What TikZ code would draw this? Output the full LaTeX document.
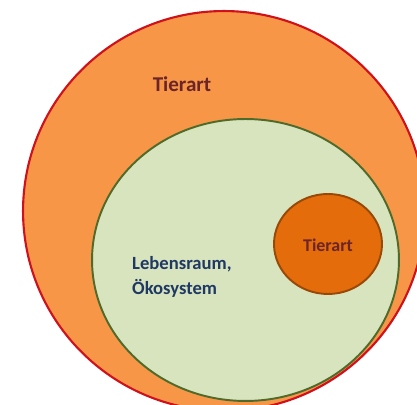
\documentclass[tikz,border=0pt]{standalone}
\usepackage{xcolor}
\usepackage{fontspec}
\usepackage{tikz}
\usetikzlibrary{shapes.geometric}
\setmainfont{Carlito}

\definecolor{outerfill}{HTML}{F79646}
\definecolor{outerline}{HTML}{D0101A}
\definecolor{habfill}{HTML}{D7E4BD}
\definecolor{habline}{HTML}{4F6A2A}
\definecolor{spfill}{HTML}{E46C0A}
\definecolor{spline}{HTML}{984807}
\definecolor{redtext}{HTML}{6B2428}
\definecolor{bluetext}{HTML}{1F3864}

\begin{document}
\begin{tikzpicture}[x=0.02cm, y=-0.02cm, every node/.style={font=\bfseries}]
    \useasboundingbox (0,0) rectangle (417,405);
    \clip (0,0) rectangle (417,405);

    % Outer zone: Tierart
    \node[draw=outerline, fill=outerfill, ellipse, line width=1.2pt, inner sep=0pt,
          minimum width=8.04cm, minimum height=8.0cm] (outer) at (224,211) {};
    \node[text=redtext, font=\bfseries\fontsize{12}{14}\selectfont] (outerlabel) at (182,84) {Tierart};

    % Habitat
    \node[draw=habline, fill=habfill, ellipse, line width=1.1pt, inner sep=0pt,
          minimum width=6.14cm, minimum height=5.64cm] (habitat) at (245.5,260) {};
    \node[text=bluetext, align=left, anchor=west, font=\bfseries\fontsize{10.6}{14.5}\selectfont] (hablabel) at (126,277) {Lebensraum,\\Ökosystem};

    % Inner species
    \node[draw=spline, fill=spfill, ellipse, line width=1.1pt, inner sep=0pt,
          minimum width=2.16cm, minimum height=2cm] (species) at (328,244) {};
    \node[text=redtext, font=\bfseries\fontsize{10.2}{12}\selectfont] (splabel) at (328,245) {Tierart};
\end{tikzpicture}
\end{document}
